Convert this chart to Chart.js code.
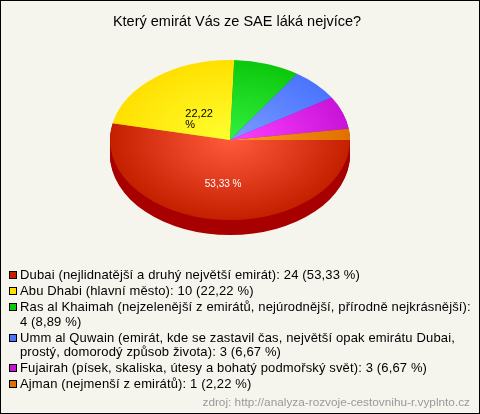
<!DOCTYPE html>
<html>
<head>
<meta charset="utf-8">
<script src="https://cdn.jsdelivr.net/npm/chart.js@4/dist/chart.umd.min.js"></script>
<style>
html, body { margin: 0; padding: 0; background: #f5f5ee; }
#wrap { position: relative; width: 480px; height: 414px; overflow: hidden; }
#frame { position: absolute; left: 0; top: 0; width: 478px; height: 412px; border: 1px solid #000; }
canvas { position: absolute; left: 0; top: 0; }
#legend { position: absolute; left: 9px; top: 268px; width: 462px; font: 13px "Liberation Sans", Arial, sans-serif; letter-spacing: 0.14px; color: #000; }
.item { position: relative; padding-left: 11px; line-height: 14.5px; margin-bottom: 1.5px; }
.box { position: absolute; left: 0; top: 3px; width: 6px; height: 6px; border: 1px solid #000; }
#source { position: absolute; right: 10px; top: 395px; font: 11.8px "Liberation Sans", Arial, sans-serif; color: #999; }
</style>
</head>
<body>
<div id="wrap">
  <canvas id="pie" width="480" height="414"></canvas>
  <div id="legend"></div>
  <div id="source">zdroj: http://analyza-rozvoje-cestovnihu-r.vyplnto.cz</div>
  <div id="frame"></div>
</div>
<script>
const title = 'Který emirát Vás ze SAE láká nejvíce?';
const categories = [
    'Dubai (nejlidnatější a druhý největší emirát)',
    'Abu Dhabi (hlavní město)',
    'Ras al Khaimah (nejzelenější z emirátů, nejúrodnější, přírodně nejkrásnější)',
    'Umm al Quwain (emirát, kde se zastavil čas, největší opak emirátu Dubai, prostý, domorodý způsob života)',
    'Fujairah (písek, skaliska, útesy a bohatý podmořský svět)',
    'Ajman (nejmenší z emirátů)'
];
const votes = [24, 10, 4, 3, 3, 1];
const percents = ['53,33 %', '22,22 %', '8,89 %', '6,67 %', '6,67 %', '2,22 %'];
const sliceLabels = [['53,33 %'], ['22,22', '%'], [], [], [], []];

const innerColors = ['#ff5a3c', '#ffff30', '#33f040', '#7a9cff', '#ff40ff', '#ff9c20'];
const outerColors = ['#c42000', '#ffe000', '#0cc80c', '#4a74ff', '#c814d8', '#e07000'];
const sideColors = ['#a80000', '#c8a800', '#089008', '#3050c0', '#900c9c', '#a85000'];

// where the squashed pie sits on the canvas
const pieX = 230, pieY = 140, squash = 2 / 3, depth = 15, pieR = 120;

function toEllipse(ctx, chart) {
    const first = chart.getDatasetMeta(0).data[0];
    ctx.translate(pieX, pieY);
    ctx.scale(1, squash);
    ctx.translate(-first.x, -first.y);
}

const pie3d = {
    id: 'pie3d',
    beforeDatasetsDraw(chart) {
        const ctx = chart.ctx;
        const arcs = chart.getDatasetMeta(0).data;
        // side wall first, same arcs pushed down
        for (let d = depth; d > 0; d--) {
            arcs.forEach((arc, i) => {
                ctx.save();
                ctx.translate(0, d);
                toEllipse(ctx, chart);
                ctx.fillStyle = sideColors[i];
                ctx.beginPath();
                ctx.moveTo(arc.x, arc.y);
                ctx.arc(arc.x, arc.y, arc.outerRadius, arc.startAngle, arc.endAngle);
                ctx.closePath();
                ctx.fill();
                ctx.restore();
            });
        }
        ctx.save();
        toEllipse(ctx, chart);
    },
    afterDatasetsDraw(chart) {
        const ctx = chart.ctx;
        ctx.restore();
        const arcs = chart.getDatasetMeta(0).data;
        ctx.textBaseline = 'middle';
        arcs.forEach((arc, i) => {
            const lines = sliceLabels[i];
            if (!lines.length) return;
            const mid = (arc.startAngle + arc.endAngle) / 2;
            const x = pieX + Math.cos(mid) * arc.outerRadius * 0.55;
            const y = pieY + Math.sin(mid) * arc.outerRadius * squash * 0.55;
            if (lines.length === 1) {
                ctx.font = '10px "Liberation Sans", Arial, sans-serif';
                ctx.fillStyle = '#fff';
                ctx.textAlign = 'center';
                ctx.fillText(lines[0], x, y);
            } else {
                // wrapped label, left aligned like the original
                ctx.font = '11px "Liberation Sans", Arial, sans-serif';
                ctx.fillStyle = '#000';
                ctx.textAlign = 'left';
                lines.forEach((line, n) => ctx.fillText(line, x - 4, y + 9 + n * 11));
            }
        });
    }
};

new Chart(document.getElementById('pie').getContext('2d'), {
    type: 'pie',
    data: {
        labels: categories,
        datasets: [{
            data: votes,
            borderWidth: 0,
            radius: pieR,
            backgroundColor(c) {
                const area = c.chart.chartArea;
                if (!area) return outerColors[c.dataIndex];
                const cx = (area.left + area.right) / 2;
                const cy = (area.top + area.bottom) / 2;
                const g = c.chart.ctx.createRadialGradient(cx, cy, 0, cx, cy, pieR);
                g.addColorStop(0, innerColors[c.dataIndex]);
                g.addColorStop(1, outerColors[c.dataIndex]);
                return g;
            }
        }]
    },
    options: {
        responsive: false,
        devicePixelRatio: 1,
        animation: false,
        rotation: 90,
        layout: { padding: { left: 0, right: 6, top: 13, bottom: 0 } },
        plugins: {
            legend: { display: false },
            tooltip: { enabled: false },
            title: {
                display: true,
                text: title,
                color: '#000',
                font: { family: '"Liberation Sans", Arial, sans-serif', size: 14.5, weight: 'normal' },
                padding: { top: 0, bottom: 4 }
            }
        }
    },
    plugins: [pie3d]
});

const legend = document.getElementById('legend');
categories.forEach((name, i) => {
    const row = document.createElement('div');
    row.className = 'item';
    const box = document.createElement('span');
    box.className = 'box';
    box.style.background = outerColors[i];
    row.appendChild(box);
    row.appendChild(document.createTextNode(name + ': ' + votes[i] + ' (' + percents[i] + ')'));
    legend.appendChild(row);
});
</script>
</body>
</html>
